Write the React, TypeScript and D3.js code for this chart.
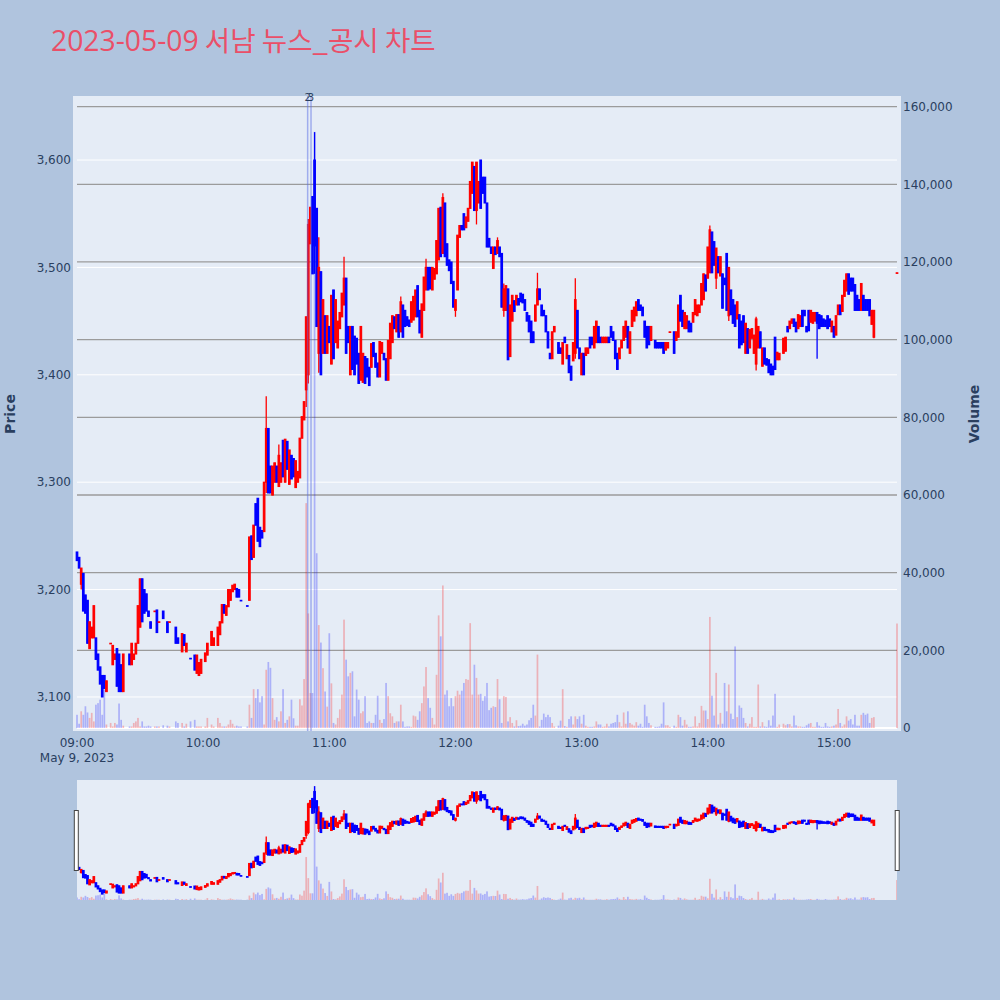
import { useRef, useEffect } from 'react'
import * as d3 from 'd3'

const _ = null

const titleDate = '2023-05-09'
const titleText = ' 서남 뉴스_공시 차트'

// one slot per minute from 09:00 to 15:30 (391 slots), _ = no trade that minute
const opens = [
  3235, 3230, 3205, 3215, 3195, 3190, 3145, 3155, 3155, 3155, // 09:00
  3140, 3128, 3120, 3120, 3105, _, 3150, 3130, 3135, 3145,
  3140, 3130, 3105, _, _, 3140, 3130, 3135, 3140, 3150,
  3165, 3210, 3200, 3196, 3180, 3170, _, 3180, 3181, 3170,
  _, 3180, _, 3170, 3170, _, _, 3165, 3155, _,
  3142, 3158, 3142, _, 3136, _, 3139, 3122, 3120, 3122,
  _, 3133, 3139, _, 3148, 3148, _, 3148, 3158, 3169, // 10:00
  3186, 3176, 3184, 3190, 3198, 3200, 3201, 3200, 3190, _,
  _, 3185, 3190, 3250, 3230, 3280, 3285, 3258, 3255, 3254,
  3300, 3350, 3315, 3288, 3300, 3315, 3296, 3300, 3339, 3300,
  3338, 3298, 3325, 3322, 3295, 3300, 3304, 3341, 3358, 3386,
  3400, 3522, 3566, 3600, 3555, 3420, 3496, 3420, 3455, 3420,
  3445, 3410, 3479, 3430, 3425, 3443, 3454, 3465, 3490, 3445, // 11:00
  3400, 3445, 3436, 3434, 3420, 3395, 3393, 3417, 3415, 3407,
  3407, 3430, 3420, 3411, 3398, 3420, 3420, 3415, 3395, 3415,
  3430, 3454, 3440, 3456, 3440, 3465, 3460, 3454, 3451, 3449,
  3451, 3454, 3483, 3460, 3435, 3460, 3479, 3500, 3500, 3479,
  3489, 3494, 3507, 3556, 3513, 3560, 3522, 3507, 3505, 3487,
  3460, 3479, 3528, 3539, 3550, 3537, 3543, 3555, 3569, 3594, // 12:00
  3553, 3560, 3600, 3584, 3584, 3560, 3527, 3519, 3499, 3519,
  3513, 3519, 3513, 3460, 3460, 3480, 3417, 3450, 3469, 3465,
  3471, 3476, 3475, 3470, 3458, 3455, 3450, 3440, 3450, 3465,
  3480, 3465, 3460, 3455, 3440, 3420, 3415, 3440, _, 3430,
  3425, 3410, 3435, 3415, 3418, 3408, 3413, 3420, 3460, 3425,
  3400, 3420, 3418, 3420, 3435, 3435, 3425, 3430, 3445, 3435, // 13:00
  3430, 3430, 3430, 3435, 3445, 3440, 3432, 3420, 3415, 3425,
  3432, 3435, 3445, 3420, 3445, 3450, 3455, 3470, 3465, 3463,
  3450, 3445, 3445, 3432, _, 3432, 3430, 3430, 3430, 3430,
  3423, 3425, 3440, _, 3440, 3432, 3435, 3474, 3460, 3443,
  3443, 3450, 3448, 3449, 3456, 3455, 3458, 3465, 3470, 3493,
  3490, 3495, 3533, 3524, 3490, 3510, 3492, 3494, 3490, 3513, // 14:00
  3455, 3479, 3470, 3465, 3452, 3456, 3450, 3455, 3420, 3443,
  3425, 3434, 3420, 3410, 3425, 3440, 3408, 3425, 3415, 3414,
  3410, 3408, 3435, 3414, 3414, _, 3420, 3422, 3445, 3443,
  3448, 3452, 3449, 3443, 3445, 3460, 3460, 3445, 3460, 3449,
  3448, 3450, 3458, 3456, 3455, 3452, 3451, 3455, 3452, 3440,
  3445, 3437, 3456, 3465, 3459, 3473, 3478, 3494, 3490, 3490, // 15:00
  3484, 3474, 3470, 3460, 3474, 3470, 3470, 3470, 3447, 3435,
  _, _, _, _, _, _, _, _, _, _,
  3495, // 15:30
]

const closes = [
  3227, 3220, 3220, 3180, 3178, 3150, 3170, 3165, 3185, 3135,
  3125, 3112, 3100, 3108, 3115, _, 3150, 3148, 3140, 3110,
  3105, 3105, 3140, _, _, 3130, 3150, 3140, 3150, 3185,
  3210, 3170, 3178, 3180, 3175, 3164, _, 3180, 3160, 3170,
  _, 3173, _, 3160, 3170, _, _, 3150, 3150, _,
  3159, 3148, 3150, _, 3136, _, 3125, 3139, 3132, 3135,
  _, 3141, 3150, _, 3161, 3155, _, 3165, 3170, 3186,
  3178, 3185, 3200, 3200, 3204, 3205, 3193, 3193, 3190, _,
  _, 3185, 3249, 3228, 3260, 3260, 3245, 3240, 3248, 3300,
  3350, 3290, 3290, 3315, 3318, 3300, 3325, 3318, 3305, 3340,
  3312, 3330, 3303, 3305, 3320, 3310, 3341, 3361, 3375, 3454,
  3540, 3556, 3494, 3520, 3445, 3500, 3400, 3470, 3420, 3455,
  3430, 3474, 3415, 3470, 3450, 3458, 3476, 3490, 3420, 3430,
  3445, 3405, 3400, 3410, 3392, 3445, 3420, 3392, 3398, 3390,
  3429, 3417, 3407, 3398, 3431, 3430, 3414, 3395, 3432, 3448,
  3455, 3443, 3456, 3435, 3468, 3435, 3445, 3446, 3445, 3468,
  3473, 3479, 3454, 3439, 3466, 3491, 3500, 3479, 3480, 3500,
  3499, 3525, 3555, 3510, 3565, 3510, 3502, 3497, 3485, 3463,
  3470, 3530, 3539, 3535, 3535, 3547, 3555, 3580, 3598, 3553,
  3598, 3580, 3555, 3569, 3560, 3519, 3519, 3513, 3519, 3512,
  3525, 3510, 3463, 3480, 3483, 3414, 3465, 3474, 3459, 3474,
  3465, 3468, 3467, 3460, 3450, 3440, 3430, 3430, 3465, 3480,
  3470, 3455, 3455, 3440, 3425, 3415, 3440, 3445, _, 3420,
  3420, 3430, 3430, 3428, 3402, 3395, 3430, 3470, 3425, 3415,
  3420, 3400, 3425, 3425, 3425, 3428, 3445, 3450, 3430, 3430,
  3435, 3435, 3435, 3430, 3435, 3432, 3415, 3405, 3425, 3432,
  3445, 3450, 3425, 3440, 3460, 3463, 3468, 3460, 3460, 3455,
  3435, 3425, 3428, 3445, _, 3425, 3425, 3425, 3425, 3420,
  3430, 3430, 3440, _, 3420, 3440, 3465, 3450, 3445, 3458,
  3455, 3440, 3440, 3458, 3470, 3465, 3465, 3485, 3494, 3478,
  3519, 3535, 3495, 3502, 3518, 3495, 3510, 3462, 3484, 3460,
  3500, 3456, 3448, 3445, 3468, 3425, 3428, 3430, 3448, 3420,
  3442, 3443, 3437, 3452, 3445, 3425, 3425, 3410, 3409, 3402,
  3400, 3400, 3405, 3421, 3420, _, 3434, 3435, 3440, 3450,
  3452, 3445, 3440, 3456, 3455, 3445, 3455, 3440, 3441, 3460,
  3458, 3458, 3448, 3443, 3445, 3445, 3445, 3443, 3445, 3450,
  3435, 3455, 3465, 3456, 3474, 3488, 3494, 3475, 3478, 3478,
  3460, 3460, 3460, 3485, 3460, 3460, 3460, 3455, 3460, 3460,
  _, _, _, _, _, _, _, _, _, _,
  3495,
]

// [minute, high, low] for candles whose wick reaches past the body
const wicks = [
  [2, 3220, 3200], [90, 3380, 3290], [96, 3335, 3296], [109, 3454, 3370],
  [110, 3545, 3392], [113, 3626, 3494], [115, 3528, 3402], [127, 3510, 3465],
  [154, 3473, 3440], [166, 3508, 3479], [174, 3569, 3513], [180, 3470, 3454],
  [190, 3598, 3540], [200, 3528, 3513], [203, 3485, 3454], [219, 3495, 3465],
  [237, 3490, 3415], [301, 3539, 3495], [304, 3518, 3480], [310, 3500, 3450],
  [323, 3454, 3404], [352, 3458, 3415], [379, 3460, 3434],
]

const volumes = [
  3400, 1100, 4300, 3400, 5600, 4000, 2600, 3900, 1700, 6000,
  6400, 7300, 3400, 9900, 900, 0, 1300, 400, 1300, 900,
  6300, 2100, 600, 0, 0, 400, 400, 1300, 1700, 2600,
  400, 1700, 400, 400, 600, 400, 0, 400, 400, 400,
  0, 700, 0, 600, 400, 0, 0, 1700, 1300, 0,
  1300, 400, 1100, 0, 1700, 0, 2100, 400, 400, 400,
  0, 400, 2600, 0, 900, 400, 0, 2600, 1300, 400,
  400, 400, 900, 2100, 1100, 400, 600, 400, 400, 0,
  0, 400, 6000, 2600, 10000, 7700, 10000, 6600, 8200, 900,
  15000, 17000, 15500, 7700, 2100, 2800, 1700, 4300, 10000, 1300,
  2100, 3000, 7300, 2500, 600, 600, 7400, 5800, 12600, 57900,
  29500, 9000, 9000, 153500, 45000, 26500, 22000, 15400, 9400, 5500,
  24400, 11500, 1300, 900, 2600, 4800, 8600, 27900, 17600, 13300,
  14200, 14600, 3000, 9900, 7300, 3800, 4300, 8200, 1300, 1700,
  1300, 1300, 3400, 8300, 2100, 1300, 2300, 11600, 8200, 3800,
  3000, 1300, 1700, 1700, 6000, 1700, 300, 400, 400, 300,
  3200, 3000, 2100, 4300, 6400, 10700, 15700, 7700, 5200, 2600,
  900, 13700, 29000, 23600, 36700, 8600, 9700, 5600, 7700, 5600,
  8200, 9600, 8600, 9600, 11600, 12600, 12400, 27000, 8600, 16300,
  12900, 8600, 8800, 7000, 8200, 11600, 4600, 5200, 5600, 5400,
  12600, 7400, 1300, 8200, 8000, 1700, 2800, 1300, 400, 2000,
  500, 600, 1100, 600, 900, 2000, 2600, 6000, 3200, 18900,
  400, 2100, 3700, 2800, 3400, 2800, 1300, 400, 0, 600,
  1900, 10000, 500, 300, 2300, 3000, 900, 3000, 2300, 3000,
  1100, 3400, 600, 300, 300, 300, 400, 1700, 900, 900,
  300, 400, 1100, 400, 1100, 1300, 1500, 3400, 1500, 400,
  4000, 1100, 4300, 1300, 900, 600, 1500, 600, 1100, 300,
  6000, 3000, 1300, 700, 0, 300, 300, 400, 1100, 6600,
  700, 700, 300, 0, 600, 300, 3400, 2800, 600, 2100,
  900, 300, 300, 400, 3000, 400, 1300, 5700, 4500, 4500,
  2300, 28600, 8300, 3200, 14200, 900, 3900, 1100, 11600, 4300,
  11200, 3700, 2300, 21000, 2800, 5800, 5200, 2600, 1300, 400,
  1100, 2800, 300, 300, 11200, 400, 1500, 400, 300, 2000,
  600, 3200, 8800, 300, 900, 0, 1100, 700, 1000, 1000,
  400, 3200, 700, 400, 400, 300, 300, 700, 1100, 1300,
  300, 300, 1500, 600, 300, 300, 1300, 400, 300, 400,
  600, 900, 4900, 1300, 400, 900, 3000, 1900, 2300, 900,
  3400, 600, 600, 3400, 3900, 3400, 3700, 1300, 2600, 2800,
  0, 0, 0, 0, 0, 0, 0, 0, 0, 0,
  26900,
]

const priceTicks = [3100, 3200, 3300, 3400, 3500, 3600]
const volumeTicks = [0, 20000, 40000, 60000, 80000, 100000, 120000, 140000, 160000]
const hourTicks = [9, 10, 11, 12, 13, 14, 15]
// news / disclosure markers
const newsLabels = ['2', '3']
const newsMinutes = [109.7, 111.3]

const RED = '#ff0000'
const BLUE = '#0000ff'
const TICK = '#2a3f5f'
const FONT = 'DejaVu Sans, Verdana, sans-serif'

const t0 = new Date(2023, 4, 9, 9, 0)
const minuteTime = (m: number) => new Date(t0.getTime() + m * 60000)

interface Candle {
  t: Date
  open: number
  close: number
  high: number
  low: number
  volume: number
  up: boolean
}

function buildCandles(): Candle[] {
  const wickMap = new Map(wicks.map((w) => [w[0], w]))
  const out: Candle[] = []
  let prevClose = opens[0] as number
  opens.forEach((o, i) => {
    const c = closes[i]
    if (o == null || c == null) return
    const w = wickMap.get(i)
    const up = c > o ? true : c < o ? false : o >= prevClose
    out.push({
      t: minuteTime(i),
      open: o,
      close: c,
      high: Math.max(o, c, w ? w[1] : o),
      low: Math.min(o, c, w ? w[2] : o),
      volume: volumes[i] || 0,
      up,
    })
    prevClose = c
  })
  return out
}

export default function App() {
  const svgRef = useRef<SVGSVGElement>(null)

  useEffect(() => {
    if (!svgRef.current) return
    const svg = d3.select(svgRef.current)
    svg.selectAll('*').remove()

    const candles = buildCandles()

    const x = d3.scaleTime().domain([minuteTime(0), minuteTime(390)]).range([77, 897])
    const yP = d3.scaleLinear().domain([3071.1, 3655.9]).range([728, 100])
    const yV = d3.scaleLinear().domain([0, 161700]).range([728, 100])
    const yPs = yP.copy().range([900, 780])
    const yVs = yV.copy().range([900, 780])

    // page + plot backgrounds
    svg.append('rect').attr('width', 1000).attr('height', 1000).attr('fill', '#b0c4de')
    svg.append('rect')
      .attr('x', 73).attr('y', 96).attr('width', 828).attr('height', 635)
      .attr('fill', '#e5ecf6')

    const defs = svg.append('defs')
    defs.append('clipPath').attr('id', 'main-clip')
      .append('rect').attr('x', 73).attr('y', 96).attr('width', 828).attr('height', 635)
    defs.append('clipPath').attr('id', 'slider-clip')
      .append('rect').attr('x', 77).attr('y', 780).attr('width', 820).attr('height', 120)

    // title: latin part and hangul part come from different fonts
    const title = svg.append('text')
      .attr('x', 51).attr('y', 51)
      .attr('fill', '#ea4f68')
    title.append('tspan')
      .attr('font-family', 'Open Sans, sans-serif')
      .attr('font-size', '28.3px')
      .text(titleDate)
    title.append('tspan')
      .attr('font-family', 'Noto Sans CJK KR, sans-serif')
      .attr('font-size', '27.6px')
      .text(titleText)

    // grid
    const grid = svg.append('g')
    grid.selectAll('line.pg').data(priceTicks).join('line')
      .attr('class', 'pg')
      .attr('x1', 77).attr('x2', 897)
      .attr('y1', (d) => yP(d)).attr('y2', (d) => yP(d))
      .attr('stroke', '#ffffff').attr('stroke-width', 1)
    grid.selectAll('line.vg').data(volumeTicks.filter((d) => d > 0)).join('line')
      .attr('class', 'vg')
      .attr('x1', 77).attr('x2', 897)
      .attr('y1', (d) => yV(d)).attr('y2', (d) => yV(d))
      .attr('stroke', '#9b9b9b').attr('stroke-width', 1.3)
    grid.append('line')
      .attr('x1', 77).attr('x2', 897)
      .attr('y1', yV(0)).attr('y2', yV(0))
      .attr('stroke', '#ffffff').attr('stroke-width', 2)

    const drawTraces = (
      g: d3.Selection<SVGGElement, unknown, null, undefined>,
      py: d3.ScaleLinear<number, number>,
      vy: d3.ScaleLinear<number, number>,
    ) => {
      const color = (d: Candle) => (d.up ? RED : BLUE)
      const cg = g.append('g')
      cg.selectAll('line').data(candles).join('line')
        .attr('x1', (d) => x(d.t)).attr('x2', (d) => x(d.t))
        .attr('y1', (d) => py(d.high)).attr('y2', (d) => py(d.low))
        .attr('stroke', color).attr('stroke-width', 1.3)
      cg.selectAll('rect').data(candles).join('rect')
        .attr('x', (d) => x(d.t) - 0.8).attr('width', 1.6)
        .attr('y', (d) => py(Math.max(d.open, d.close)))
        .attr('height', (d) => Math.max(0.6, Math.abs(py(d.open) - py(d.close))))
        .attr('fill', color).attr('stroke', color).attr('stroke-width', 1.1)
      const vg = g.append('g')
      vg.selectAll('rect').data(candles.filter((d) => d.volume > 0)).join('rect')
        .attr('x', (d) => x(d.t) - 0.85).attr('width', 1.7)
        .attr('y', (d) => vy(d.volume))
        .attr('height', (d) => vy(0) - vy(d.volume))
        .attr('fill', (d) => (d.up ? 'rgba(255,0,0,0.25)' : 'rgba(0,0,255,0.25)'))
    }

    const main = svg.append('g').attr('clip-path', 'url(#main-clip)')
    drawTraces(main, yP, yV)

    // news markers
    const news = svg.append('g')
    news.selectAll('line').data(newsMinutes).join('line')
      .attr('x1', (d) => x(minuteTime(d))).attr('x2', (d) => x(minuteTime(d)))
      .attr('y1', 96).attr('y2', 731)
      .attr('stroke', 'rgba(90,110,230,0.5)').attr('stroke-width', 1.5)
    news.selectAll('text').data(newsMinutes).join('text')
      .attr('x', (d) => x(minuteTime(d))).attr('y', 101)
      .attr('text-anchor', 'middle')
      .attr('fill', TICK)
      .attr('font-family', FONT).attr('font-size', '10px')
      .text((_d, i) => newsLabels[i])

    // axes labels
    const ax = svg.append('g').attr('font-family', FONT).attr('font-size', '12px').attr('fill', TICK)
    ax.selectAll('text.py').data(priceTicks).join('text')
      .attr('class', 'py')
      .attr('x', 71).attr('y', (d) => yP(d) + 4.3)
      .attr('text-anchor', 'end')
      .text((d) => d3.format(',')(d))
    ax.selectAll('text.vy').data(volumeTicks).join('text')
      .attr('class', 'vy')
      .attr('x', 903).attr('y', (d) => yV(d) + 4.3)
      .text((d) => d3.format(',')(d))
    ax.selectAll('text.tx').data(hourTicks).join('text')
      .attr('class', 'tx')
      .attr('x', (h) => x(new Date(2023, 4, 9, h, 0)))
      .attr('y', 746.5)
      .attr('text-anchor', 'middle')
      .text((h) => d3.timeFormat('%H:%M')(new Date(2023, 4, 9, h, 0)))
    ax.append('text')
      .attr('x', x(t0)).attr('y', 761.5)
      .attr('text-anchor', 'middle')
      .text(d3.timeFormat('%b %-d, %Y')(t0))

    svg.append('text')
      .attr('transform', 'translate(9.5,414) rotate(-90)')
      .attr('text-anchor', 'middle').attr('dominant-baseline', 'central')
      .attr('font-family', FONT).attr('font-size', '14px').attr('font-weight', 'bold')
      .attr('fill', TICK)
      .text('Price')
    svg.append('text')
      .attr('transform', 'translate(974,414) rotate(-90)')
      .attr('text-anchor', 'middle').attr('dominant-baseline', 'central')
      .attr('font-family', FONT).attr('font-size', '14px').attr('font-weight', 'bold')
      .attr('fill', TICK)
      .text('Volume')

    // range slider
    svg.append('rect')
      .attr('x', 77).attr('y', 780).attr('width', 820).attr('height', 120)
      .attr('fill', '#e5ecf6')
    const slider = svg.append('g').attr('clip-path', 'url(#slider-clip)')
    drawTraces(slider, yPs, yVs)
    svg.selectAll('rect.grab').data([76.3, 897.2]).join('rect')
      .attr('class', 'grab')
      .attr('x', (d) => d - 2).attr('y', 810.5)
      .attr('width', 4).attr('height', 60)
      .attr('fill', '#ffffff').attr('stroke', '#444444').attr('stroke-width', 1)
  }, [])

  return (
    <svg
      ref={svgRef}
      width={1000}
      height={1000}
      style={{ position: 'absolute', left: 0, top: 0, display: 'block' }}
    />
  )
}
